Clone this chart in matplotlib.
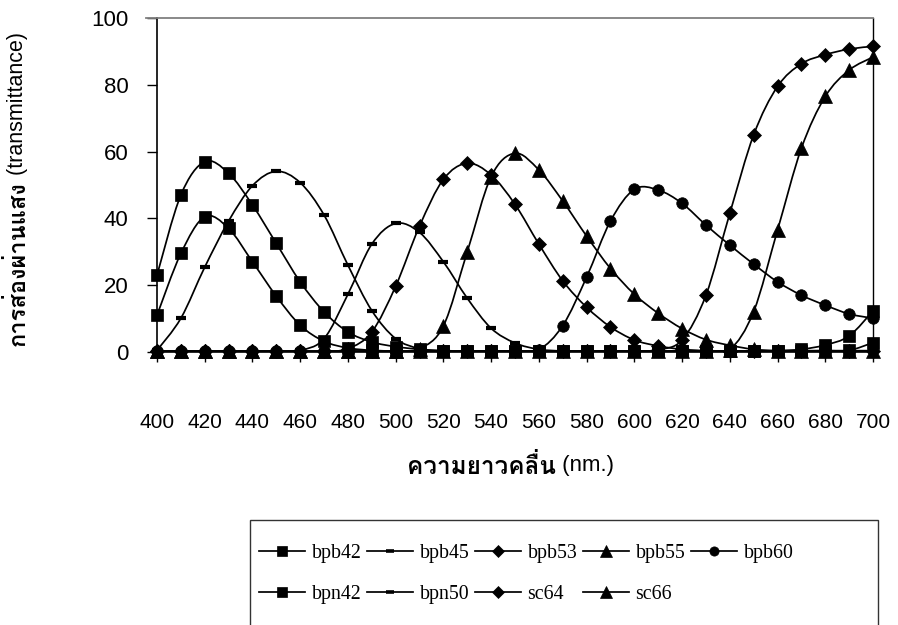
import numpy as np
import matplotlib
matplotlib.use("Agg")
import matplotlib.pyplot as plt
from matplotlib import font_manager
from matplotlib.ft2font import FT2Font
from matplotlib.path import Path
from matplotlib.patches import PathPatch, Rectangle
from matplotlib.lines import Line2D

# wavelength (nm) and transmittance (%) of each indicator solution
wavelength = [400, 410, 420, 430, 440, 450, 460, 470, 480, 490, 500,
              510, 520, 530, 540, 550, 560, 570, 580, 590, 600,
              610, 620, 630, 640, 650, 660, 670, 680, 690, 700]

bpb42 = [23.0, 47.0, 57.0, 53.5, 44.0, 32.5, 21.0, 12.0, 6.0, 3.0, 1.6,
         0.8, 0.4, 0.3, 0.3, 0.3, 0.3, 0.3, 0.3, 0.3, 0.3,
         0.3, 0.3, 0.3, 0.3, 0.3, 0.4, 0.8, 2.1, 4.8, 12.3]
bpb45 = [0.5, 10.1, 25.4, 39.2, 49.8, 54.1, 50.7, 41.0, 26.0, 12.4, 4.0,
         1.0, 0.3, 0.2, 0.2, 0.2, 0.2, 0.2, 0.2, 0.2, 0.2,
         0.2, 0.2, 0.2, 0.2, 0.2, 0.2, 0.2, 0.2, 0.2, 0.2]
bpb53 = [0.2, 0.2, 0.2, 0.2, 0.2, 0.2, 0.2, 0.2, 1.0, 6.0, 19.7,
         37.7, 51.7, 56.5, 53.0, 44.2, 32.3, 21.3, 13.4, 7.5, 3.6,
         1.8, 0.8, 0.4, 0.3, 0.3, 0.3, 0.3, 0.3, 0.3, 0.3]
bpb55 = [0.2, 0.2, 0.2, 0.2, 0.2, 0.2, 0.2, 0.2, 0.2, 0.2, 0.2,
         1.0, 7.8, 30.0, 52.5, 59.5, 54.5, 45.2, 34.7, 25.0, 17.3,
         11.6, 7.0, 3.7, 2.0, 0.8, 0.4, 0.4, 0.4, 0.4, 0.4]
bpb60 = [0.2, 0.2, 0.2, 0.2, 0.2, 0.2, 0.2, 0.2, 0.2, 0.2, 0.2,
         0.2, 0.2, 0.2, 0.2, 0.2, 0.7, 7.9, 22.4, 39.2, 48.7,
         48.5, 44.5, 38.0, 32.0, 26.3, 21.0, 17.0, 14.0, 11.4, 10.1]
bpn42 = [11.0, 29.5, 40.5, 37.0, 27.0, 16.7, 8.0, 3.2, 1.2, 0.5, 0.3,
         0.3, 0.3, 0.3, 0.3, 0.3, 0.3, 0.3, 0.3, 0.3, 0.3,
         0.3, 0.3, 0.3, 0.3, 0.3, 0.3, 0.3, 0.4, 0.5, 2.8]
bpn50 = [0.2, 0.2, 0.2, 0.2, 0.2, 0.2, 0.5, 4.0, 17.3, 32.3, 38.5,
         35.8, 27.0, 16.1, 7.1, 2.7, 0.8, 0.3, 0.2, 0.2, 0.2,
         0.2, 0.2, 0.2, 0.2, 0.2, 0.2, 0.2, 0.2, 0.2, 0.2]
sc64 = [0.2, 0.2, 0.2, 0.2, 0.2, 0.2, 0.2, 0.2, 0.2, 0.2, 0.2,
        0.2, 0.2, 0.2, 0.2, 0.2, 0.2, 0.2, 0.2, 0.2, 0.2,
        0.7, 3.6, 17.0, 41.5, 65.0, 79.5, 86.3, 89.0, 90.7, 91.5]
sc66 = [0.2, 0.2, 0.2, 0.2, 0.2, 0.2, 0.2, 0.2, 0.2, 0.2, 0.2,
        0.2, 0.2, 0.2, 0.2, 0.2, 0.2, 0.2, 0.2, 0.2, 0.2,
        0.2, 0.2, 0.2, 0.7, 12.1, 36.5, 61.0, 76.5, 84.4, 88.3]

series_names = ["bpb42", "bpb45", "bpb53", "bpb55", "bpb60",
                "bpn42", "bpn50", "sc64", "sc66"]
series_values = [bpb42, bpb45, bpb53, bpb55, bpb60, bpn42, bpn50, sc64, sc66]
series_markers = ["s", "_", "D", "^", "o", "s", "_", "D", "^"]

x_ticks = [400, 420, 440, 460, 480, 500, 520, 540, 560, 580,
           600, 620, 640, 660, 680, 700]
y_ticks = [0, 20, 40, 60, 80, 100]

marker_size = {"s": 8.8, "_": 7, "D": 7.5, "^": 10, "o": 8.3}


def font_with(char, fallback):
    """Return the first installed family that has a glyph for char."""
    for f in font_manager.fontManager.ttflist:
        try:
            if ord(char) in FT2Font(f.fname).get_charmap():
                return f.name
        except Exception:
            continue
    return fallback


def smooth_path(x, y):
    """Bezier path through the points, like a smoothed spreadsheet line."""
    pts = np.column_stack([x, y]).astype(float)
    n = len(pts)
    verts = [pts[0]]
    codes = [Path.MOVETO]
    for i in range(n - 1):
        p0 = pts[max(i - 1, 0)]
        p1 = pts[i]
        p2 = pts[i + 1]
        p3 = pts[min(i + 2, n - 1)]
        verts += [p1 + (p2 - p0) / 6.0, p2 - (p3 - p1) / 6.0, p2]
        codes += [Path.CURVE4] * 3
    return Path(verts, codes)


thai = font_with("\u0e01", "DejaVu Sans")
sans = "Liberation Sans"
serif = "Liberation Serif"

fig = plt.figure(figsize=(8.98, 6.25), dpi=100)
ax = fig.add_axes([157 / 898, 1 - 352 / 625, 716 / 898, 334 / 625])

for name, vals, mk in zip(series_names, series_values, series_markers):
    ax.add_patch(PathPatch(smooth_path(wavelength, vals), facecolor="none",
                           edgecolor="black", lw=1.25, zorder=3))
    mew = 3.0 if mk == "_" else 0.5
    ax.plot(wavelength, vals, linestyle="none", marker=mk,
            markersize=marker_size[mk], color="black", mew=mew,
            clip_on=False, zorder=4)

ax.set_xlim(400, 700)
ax.set_ylim(0, 100)
ax.set_xticks(x_ticks)
ax.set_xticklabels([str(v) for v in x_ticks], family=sans, fontsize=15)
ax.set_yticks(y_ticks)
ax.set_yticklabels([str(v) for v in y_ticks], family=sans, fontsize=16)
ax.tick_params(axis="x", direction="out", length=7, width=1, pad=37)
ax.tick_params(axis="y", direction="out", length=7.5, width=1, pad=13)

ax.spines["left"].set_linewidth(1.2)
ax.spines["bottom"].set_linewidth(1.2)
ax.spines["right"].set_linewidth(1.0)
ax.spines["top"].set_color("#808080")
ax.spines["top"].set_linewidth(1.3)
# plot-area border continues past the y axis to the tick ends
ax.plot([-0.016, 0], [1, 1], transform=ax.transAxes, color="#808080",
        lw=1.3, clip_on=False)

# axis titles: bold Thai text followed by the plain English term
xl = fig.text(556 / 898, 1 - 466 / 625, "ความยาวคลื่น", ha="right",
              va="center", fontsize=17.5, fontweight="bold",
              family=[thai, sans])
ax.annotate(" (nm.)", xy=(1, 0.5), xycoords=xl, ha="left", va="center",
            fontsize=16, family=sans)

yl = fig.text(18 / 898, 1 - 346 / 625, "การส่องผ่านแสง", ha="center",
              va="bottom", rotation=90, fontsize=17, fontweight="bold",
              family=[thai, sans])
ax.annotate(" (transmittance)", xy=(0.5, 1), xycoords=yl, ha="center",
            va="bottom", rotation=90, fontsize=15.5, family=sans)

# legend laid out in two rows of five
handles = [Line2D([], [], color="black", lw=1.25, marker=mk,
                  markersize=marker_size[mk] * 0.8,
                  mew=2.6 if mk == "_" else 0.5)
           for mk in series_markers]
order = [0, 5, 1, 6, 2, 7, 3, 8, 4]
fig.legend([handles[i] for i in order], [series_names[i] for i in order],
           loc="upper left", bbox_to_anchor=(249 / 898, 1 - 534 / 625),
           ncol=5, frameon=False, borderpad=0, handlelength=2.3,
           handletextpad=0.35, columnspacing=0.28, labelspacing=1.1,
           prop={"family": serif, "size": 14.3})
fig.add_artist(Rectangle((250 / 898, -0.05), 628 / 898, 0.05 + 1 - 520 / 625,
                         transform=fig.transFigure, facecolor="none",
                         edgecolor="#333333", lw=1.0))

fig.savefig("out.png", dpi=100)
